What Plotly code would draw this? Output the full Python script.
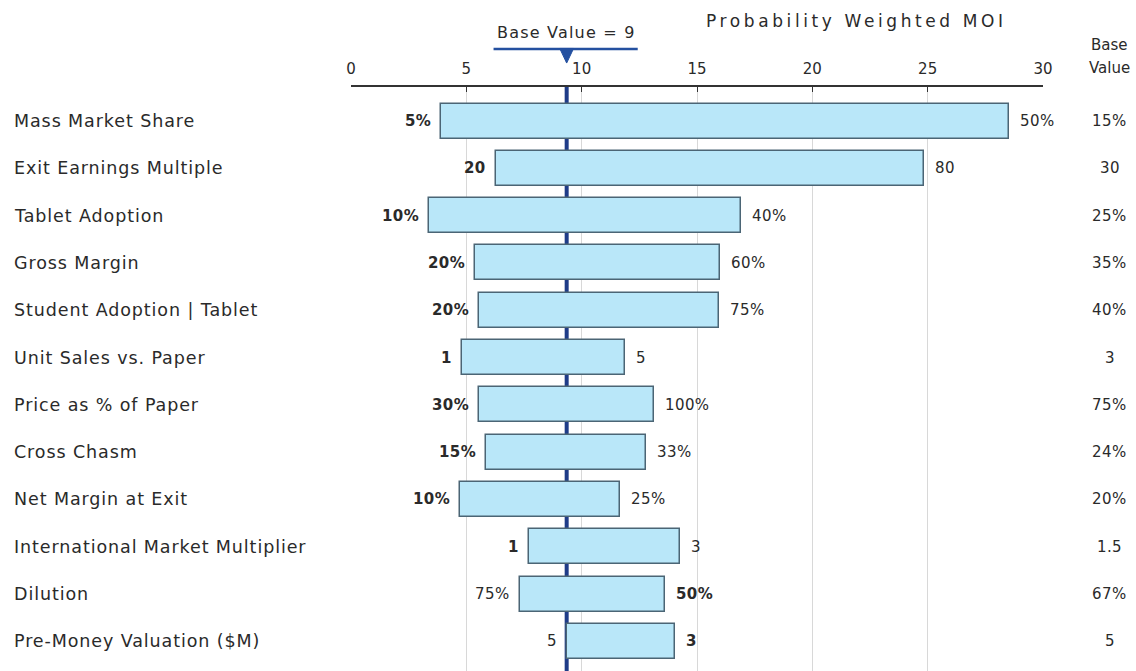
import plotly.graph_objects as go

categories = ["Mass Market Share", "Exit Earnings Multiple", "Tablet Adoption", "Gross Margin",
              "Student Adoption | Tablet", "Unit Sales vs. Paper", "Price as % of Paper", "Cross Chasm",
              "Net Margin at Exit", "International Market Multiplier", "Dilution", "Pre-Money Valuation ($M)"]
moi_left = [3.88, 6.27, 3.36, 5.36, 5.54, 4.82, 5.53, 5.86, 4.71, 7.71, 7.34, 9.38]
moi_right = [28.52, 24.84, 16.90, 15.99, 15.94, 11.90, 13.12, 12.80, 11.68, 14.26, 13.63, 14.05]
left_labels = ["5%", "20", "10%", "20%", "20%", "1", "30%", "15%", "10%", "1", "75%", "5"]
right_labels = ["50%", "80", "40%", "60%", "75%", "5", "100%", "33%", "25%", "3", "50%", "3"]
low_on_left = [True, True, True, True, True, True, True, True, True, True, False, False]
base_values = ["15%", "30", "25%", "35%", "40%", "3", "75%", "24%", "20%", "1.5", "67%", "5"]
base_moi = 9.35
base_label = "Base Value = 9"
x_ticks = [0, 5, 10, 15, 20, 25, 30]

FONT = "DejaVu Sans"
TXT = "#2a2a2a"
rows = list(range(len(categories)))


def sp(text, px):
    return f'<span style="letter-spacing:{px}px">{text}</span>'


fig = go.Figure()
fig.add_trace(go.Bar(
    y=rows, x=[r - l for l, r in zip(moi_left, moi_right)], base=moi_left,
    orientation="h", width=0.74,
    marker=dict(color="#b9e7f9", line=dict(color="#4b6575", width=1.5)),
    hoverinfo="skip", showlegend=False,
))

ann = []
for i, cat in enumerate(categories):
    ann.append(dict(text=sp(cat, 0.9), x=-0.4899, xref="paper", y=i, yref="y", xanchor="left",
                    showarrow=False, font=dict(size=17.5, color=TXT, family=FONT)))
    lt = f"<b>{left_labels[i]}</b>" if low_on_left[i] else left_labels[i]
    rt = right_labels[i] if low_on_left[i] else f"<b>{right_labels[i]}</b>"
    ann.append(dict(text=sp(lt, 0.4), x=moi_left[i], y=i, xref="x", yref="y", xanchor="right", xshift=-8,
                    showarrow=False, font=dict(size=15, color=TXT, family=FONT)))
    ann.append(dict(text=sp(rt, 0.4), x=moi_right[i], y=i, xref="x", yref="y", xanchor="left", xshift=9,
                    showarrow=False, font=dict(size=15, color=TXT, family=FONT)))
    ann.append(dict(text=sp(base_values[i], 0.4), x=1.0968, xref="paper", y=i, yref="y", xanchor="center",
                    showarrow=False, font=dict(size=15, color=TXT, family=FONT)))

ann.append(dict(text="Base", x=1.0968, xref="paper", y=(671 - 45) / 584, yref="paper",
                xanchor="center", yanchor="middle", showarrow=False,
                font=dict(size=15, color=TXT, family=FONT)))
ann.append(dict(text="Value", x=1.0968, xref="paper", y=(671 - 68) / 584, yref="paper",
                xanchor="center", yanchor="middle", showarrow=False,
                font=dict(size=15, color=TXT, family=FONT)))
ann.append(dict(text=sp("Probability Weighted MOI", 3.6),
                x=(856.5 - 351) / 692, xref="paper", y=(671 - 21) / 584, yref="paper",
                xanchor="center", yanchor="middle",
                showarrow=False, font=dict(size=17, color=TXT, family=FONT)))
ann.append(dict(text=sp(base_label, 1.2), x=base_moi, xref="x", y=(671 - 33) / 584, yref="paper",
                xanchor="center", yanchor="middle", showarrow=False,
                font=dict(size=16, color=TXT, family=FONT)))

shapes = [
    dict(type="line", x0=base_moi, x1=base_moi, y0=0, y1=1, xref="x", yref="paper",
         line=dict(color="#1f3c88", width=4), layer="below"),
    dict(type="line", x0=6.18, x1=12.43, y0=1.065, y1=1.065, xref="x", yref="paper",
         line=dict(color="#2450a0", width=2.5)),
    dict(type="path", xref="x", yref="paper",
         path=f"M {base_moi-0.3},1.066 L {base_moi+0.3},1.066 L {base_moi},1.041 Z",
         fillcolor="#2450a0", line=dict(color="#2450a0", width=1)),
]

fig.update_layout(
    width=1136, height=671,
    margin=dict(l=351, r=93, t=87, b=0, autoexpand=False),
    paper_bgcolor="white", plot_bgcolor="white",
    bargap=0, annotations=ann, shapes=shapes,
    xaxis=dict(side="top", range=[0, 30], tickvals=x_ticks, ticktext=[str(v) for v in x_ticks],
               showgrid=True, gridcolor="#d8d8d8", gridwidth=1, zeroline=False,
               showline=True, linecolor="#333333", linewidth=1.5,
               ticks="inside", ticklen=5, tickcolor="#333333", ticklabelstandoff=5,
               tickfont=dict(size=15, color=TXT, family=FONT), fixedrange=True),
    yaxis=dict(range=[11.628, -0.719], showticklabels=False, showgrid=False, zeroline=False,
               showline=False, ticks="", fixedrange=True),
    font=dict(family=FONT),
)

fig.write_html("out.html")
